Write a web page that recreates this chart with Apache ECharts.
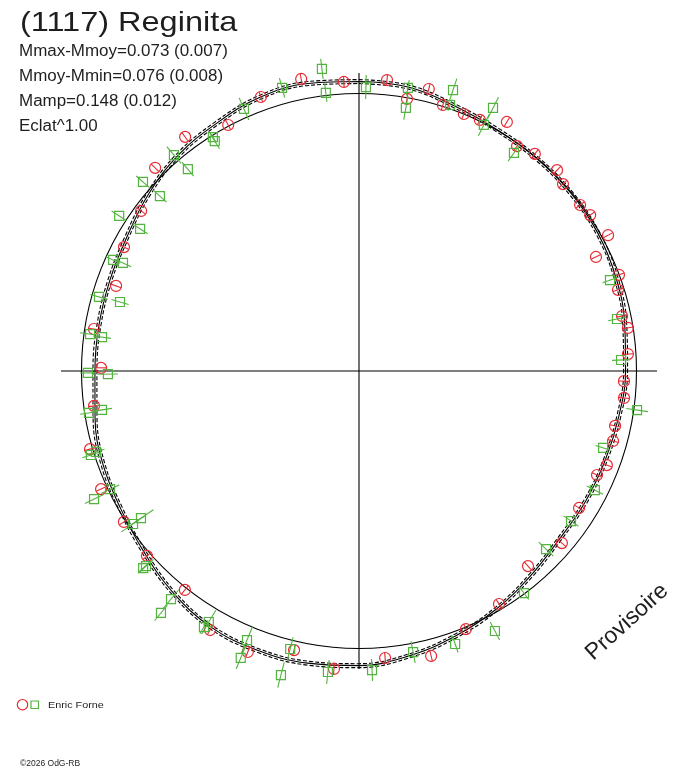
<!DOCTYPE html>
<html>
<head>
    <meta charset="utf-8"/>
    <script src="https://cdn.jsdelivr.net/npm/echarts@6/dist/echarts.min.js"></script>
</head>
<body style="margin:0;background:#fff;">
<div id="main" style="width:688px;height:768px;"></div>
<script type="text/javascript">
    // rotational phase in degrees (0 at top, clockwise) and magnitude offset from the reference circle
    var redAngle = [340.3, 348.8, 357.0, 5.5, 10.0, 13.9, 17.5, 22.2, 25.7, 30.7,
        35.1, 39.0, 44.6, 47.5, 53.1, 56.0, 61.4, 64.3, 69.7, 72.6,
        78.2, 80.9, 86.4, 92.2, 95.8, 102.1, 105.4, 110.8, 113.6, 121.9,
        130.3, 139.1, 149.0, 157.5, 165.8, 174.8, 184.8, 193.1, 201.6, 209.9,
        218.5, 228.9, 237.3, 245.4, 253.8, 262.5, 270.7, 279.0, 289.3, 297.8,
        306.3, 314.9, 323.4, 332.0];
    var redDm = [0.078, 0.115, 0.069, 0.085, -0.004, 0.075, 0.011, 0.003, 0.009, 0.070,
        -0.012, 0.013, 0.028, -0.002, -0.003, 0.010, 0.037, -0.078, 0.001, -0.031,
        -0.046, -0.026, -0.042, -0.066, -0.059, -0.084, -0.075, -0.066, -0.096, -0.099,
        -0.061, -0.105, -0.029, 0.013, 0.094, 0.062, 0.122, 0.053, 0.140, 0.121,
        0.015, 0.024, 0.013, 0.037, 0.017, -0.054, -0.106, -0.048, -0.109, -0.063,
        -0.037, 0.060, 0.081, 0.009];
    var redErr = 0.030;

    var greenAngle = [336.3, 344.8, 353.0, 353.2, 1.4, 9.8, 10.1, 18.5, 18.9, 27.0,
        26.9, 35.4, 70.1, 78.6, 87.6, 98.0, 107.5, 116.8, 125.3, 133.6,
        143.4, 152.4, 160.6, 169.1, 177.5, 185.9, 193.9, 194.4, 202.6, 202.4,
        210.9, 211.2, 219.5, 219.3, 227.5, 227.6, 236.0, 235.9, 244.6, 244.2,
        252.9, 252.6, 261.4, 261.2, 269.3, 269.6, 277.5, 277.8, 286.1, 285.9,
        294.6, 294.3, 303.0, 302.9, 311.3, 311.2, 319.7, 319.4, 327.9, 328.0];
    var greenDm = [0.051, 0.091, 0.152, 0.017, 0.039, 0.057, -0.054, 0.107, 0.023, 0.101,
        -0.006, -0.053, -0.056, -0.077, -0.082, 0.021, -0.117, -0.071, -0.096, -0.104,
        -0.002, 0.091, 0.069, 0.051, 0.124, 0.142, 0.052, 0.205, 0.080, 0.185,
        0.086, 0.124, 0.103, 0.198, 0.066, 0.085, -0.078, -0.023, -0.008, 0.096,
        -0.010, 0.022, -0.095, -0.021, -0.144, -0.033, -0.099, -0.031, -0.157, -0.037,
        -0.097, -0.040, -0.089, 0.048, -0.067, 0.056, -0.069, 0.041, -0.031, -0.007];
    var greenErr = [0.067, 0.056, 0.056, 0.050, 0.067, 0.044, 0.067, 0.067, 0.033, 0.067,
        0.067, 0.056, 0.044, 0.050, 0.050, 0.061, 0.044, 0.050, 0.050, 0.056,
        0.044, 0.056, 0.050, 0.061, 0.061, 0.067, 0.067, 0.072, 0.078, 0.067,
        0.078, 0.044, 0.067, 0.056, 0.056, 0.033, 0.083, 0.078, 0.056, 0.056,
        0.050, 0.050, 0.056, 0.050, 0.056, 0.044, 0.050, 0.056, 0.050, 0.050,
        0.050, 0.044, 0.050, 0.050, 0.050, 0.050, 0.050, 0.061, 0.050, 0.028];

    // fitted curve
    var fitAngle = [0, 10, 20, 30, 40, 50, 60, 70, 80, 90, 100, 110, 120, 130, 140, 150, 160, 170,
        180, 190, 200, 210, 220, 230, 240, 250, 260, 270, 280, 290, 300, 310, 320, 330, 340, 350, 360];
    var fitDm = [0.069, 0.062, 0.026, 0.005, 0.000, -0.002, -0.007, -0.020, -0.040, -0.058, -0.074, -0.084,
        -0.087, -0.086, -0.055, -0.012, 0.028, 0.068, 0.098, 0.109, 0.112, 0.104, 0.068, 0.022,
        -0.010, -0.025, -0.050, -0.072, -0.072, -0.066, -0.050, -0.012, 0.025, 0.048, 0.078, 0.083, 0.069];
    var fitSigma = 0.011;

    var infoLines = ['Mmax-Mmoy=0.073 (0.007)', 'Mmoy-Mmin=0.076 (0.008)', 'Mamp=0.148 (0.012)', 'Eclat^1.00'];

    var RED = '#e62a33';
    var GREEN = '#52b43e';
    var FONT = "'Liberation Sans', Arial, sans-serif";
    var CENTER = [359, 371];
    var R_MIN = -1.539;            // magnitude offset at the pole
    var R_MAX = R_MIN + 320 / 180; // 180 px per mag, outer radius 320 px

    var chart = echarts.init(document.getElementById('main'));

    function hiddenAngle(idx) {
        return {
            polarIndex: idx, type: 'value', min: 0, max: 360, startAngle: 90, clockwise: true,
            axisLine: { show: false }, axisTick: { show: false }, axisLabel: { show: false },
            splitLine: { show: false }
        };
    }
    function hiddenRadius(idx, min, max) {
        return {
            polarIndex: idx, type: 'value', min: min, max: max,
            axisLine: { show: false }, axisTick: { show: false }, axisLabel: { show: false },
            splitLine: { show: false }
        };
    }

    var crossAxis = hiddenAngle(1);
    crossAxis.interval = 90;
    crossAxis.splitLine = { show: true, lineStyle: { color: '#000', width: 1.1 } };
    var circleAxis = hiddenAngle(2);
    circleAxis.axisLine = { show: true, lineStyle: { color: '#000', width: 1.1 } };

    function markSeries(kind, angles, dms, errs) {
        var color = kind === 'red' ? RED : GREEN;
        return {
            type: 'custom',
            coordinateSystem: 'polar',
            polarIndex: 0,
            data: angles.map(function (a, i) {
                return [dms[i], a, Array.isArray(errs) ? errs[i] : errs];
            }),
            renderItem: function (params, api) {
                var dm = api.value(0), ang = api.value(1), err = api.value(2);
                var c = api.coord([dm, ang]);
                var p1 = api.coord([dm - err, ang]);
                var p2 = api.coord([dm + err, ang]);
                var mark = kind === 'red'
                    ? { type: 'circle', shape: { cx: c[0], cy: c[1], r: 5.5 },
                        style: { fill: 'none', stroke: color, lineWidth: 1.2 } }
                    : { type: 'rect', shape: { x: c[0] - 4.5, y: c[1] - 4.5, width: 9, height: 9 },
                        style: { fill: 'none', stroke: color, lineWidth: 1.2 } };
                return {
                    type: 'group',
                    children: [
                        { type: 'line', shape: { x1: p1[0], y1: p1[1], x2: p2[0], y2: p2[1] },
                          style: { stroke: color, lineWidth: 1.1 } },
                        mark
                    ]
                };
            },
            z: 5
        };
    }

    function fitSeries(offset, dashed) {
        return {
            type: 'line',
            coordinateSystem: 'polar',
            polarIndex: 0,
            smooth: 0.4,
            symbol: 'none',
            silent: true,
            data: fitAngle.map(function (a, i) { return [fitDm[i] + offset, a]; }),
            lineStyle: { color: '#000', width: 1.1, type: dashed ? [4, 2] : 'solid' },
            z: 3
        };
    }

    function text(str, x, y, size, sx, extra) {
        var el = {
            type: 'text', x: x, y: y, scaleX: sx,
            style: { text: str, font: size + 'px ' + FONT, fill: '#1e1e1e', textVerticalAlign: 'top' }
        };
        if (extra) Object.assign(el, extra);
        return el;
    }

    var graphics = [text('(1117) Reginita', 20, 9, 28, 1.16)];
    infoLines.forEach(function (s, i) {
        graphics.push(text(s, 19, 44 + i * 24.8, 16, 1.06));
    });
    graphics.push(
        { type: 'circle', shape: { cx: 22.5, cy: 704.7, r: 5.2 }, style: { fill: 'none', stroke: RED, lineWidth: 1.2 } },
        { type: 'rect', shape: { x: 31, y: 701, width: 7.5, height: 7.5 }, style: { fill: 'none', stroke: GREEN, lineWidth: 1.2 } },
        text('Enric Forne', 48, 701, 9, 1.2),
        text('\u00a92026 OdG-RB', 20, 759, 8.5, 1.0),
        {
            type: 'text', x: 627, y: 622, rotation: 42 * Math.PI / 180,
            style: { text: 'Provisoire', font: '23px ' + FONT, fill: '#1e1e1e',
                     textAlign: 'center', textVerticalAlign: 'middle' }
        }
    );

    var option = {
        backgroundColor: '#fff',
        animation: false,
        polar: [
            { center: CENTER, radius: 320 },
            { center: CENTER, radius: 298 },
            { center: CENTER, radius: 277.5 }
        ],
        angleAxis: [hiddenAngle(0), crossAxis, circleAxis],
        radiusAxis: [hiddenRadius(0, R_MIN, R_MAX), hiddenRadius(1, 0, 1), hiddenRadius(2, 0, 1)],
        graphic: graphics,
        series: [
            fitSeries(0, false),
            fitSeries(fitSigma, true),
            fitSeries(-fitSigma, true),
            markSeries('red', redAngle, redDm, redErr),
            markSeries('green', greenAngle, greenDm, greenErr)
        ]
    };

    chart.setOption(option);
</script>
</body>
</html>
